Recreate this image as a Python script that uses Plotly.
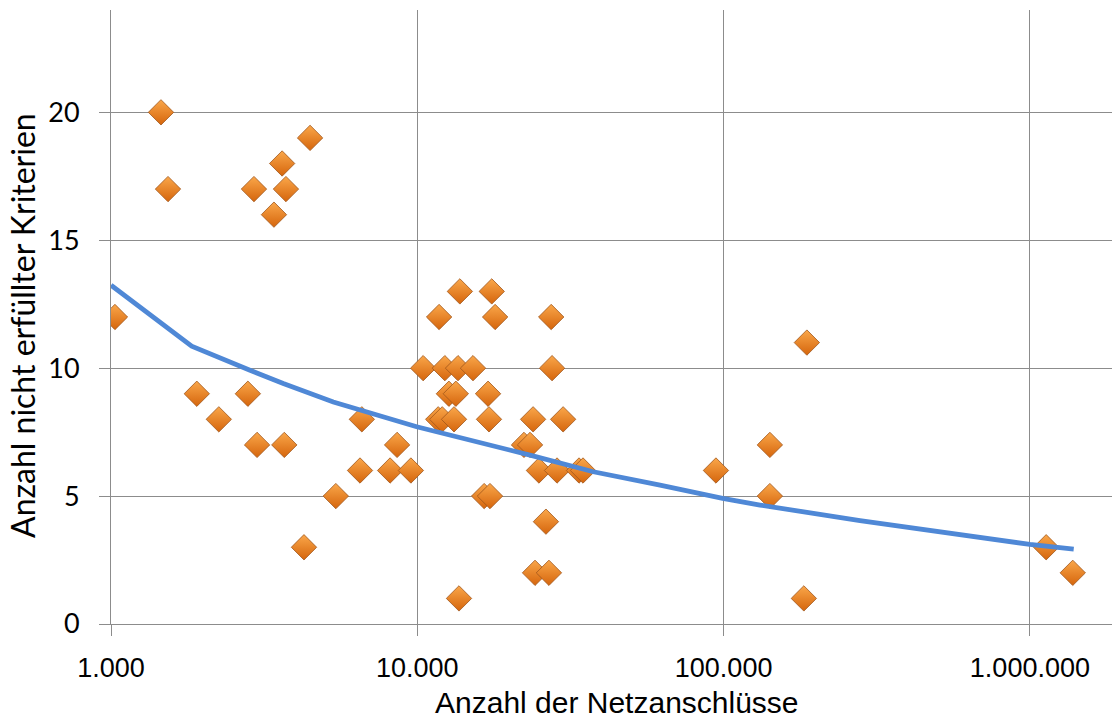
import plotly.graph_objects as go

# Netzanschlüsse je Netzbetreiber und Anzahl nicht erfüllter Kriterien
anschluesse = [
    1030, 1456, 1535, 1906, 2249, 2798, 2929, 2998, 3404, 3620,
    3679, 3725, 4266, 4466, 5420, 6500, 6590, 8150, 8590, 9530,
    10450, 11700, 11780, 12060, 12300, 12680, 13180, 13360, 13580, 13680,
    13770, 15200, 16530, 17020, 17140, 17270, 17500, 17950, 22300, 23340,
    23880, 24230, 24950, 26300, 26900, 27360, 27540, 28590, 29930, 33730,
    34750, 94400, 141600, 141600, 182800, 187000, 1130000, 1380000,
]
kriterien = [
    12, 20, 17, 9, 8, 9, 17, 7, 16, 18,
    7, 17, 3, 19, 5, 6, 8, 6, 7, 6,
    10, 8, 12, 8, 10, 9, 8, 9, 10, 1,
    13, 10, 5, 9, 8, 5, 13, 12, 7, 7,
    8, 2, 6, 4, 2, 12, 10, 6, 8, 6,
    6, 6, 7, 5, 1, 11, 3, 2,
]

# Trendlinie (Stützpunkte)
trend_x = [1000, 1834, 2843, 3651, 5319, 6836, 9954, 23330, 29240, 37540,
           62000, 99300, 131500, 278800, 1000000, 1390000]
trend_y = [13.24, 10.86, 9.92, 9.40, 8.68, 8.29, 7.71, 6.60, 6.27, 5.95,
           5.43, 4.91, 4.65, 4.04, 3.11, 2.93]

x_tickvals = [1000, 10000, 100000, 1000000]
x_ticktext = ["1.000", "10.000", "100.000", "1.000.000"]
y_tickvals = [0, 5, 10, 15, 20]

grid = "#8c8c8c"

fig = go.Figure()
fig.add_trace(go.Scatter(
    x=anschluesse, y=kriterien, mode="markers",
    marker=dict(symbol="diamond", size=19.5, color="#FAA74A",
                gradient=dict(type="vertical", color="#D5650C"),
                line=dict(color="#A0561A", width=0.8)),
    showlegend=False, hoverinfo="x+y",
))
fig.add_trace(go.Scatter(
    x=trend_x, y=trend_y, mode="lines",
    line=dict(color="#4F88D6", width=4.8),
    showlegend=False, hoverinfo="skip",
))

fig.update_layout(
    width=1112, height=719,
    margin=dict(l=111, r=0, t=10, b=95),
    paper_bgcolor="white", plot_bgcolor="white",
    xaxis=dict(
        type="log", range=[3, 6.268],
        tickvals=x_tickvals, ticktext=x_ticktext,
        tickfont=dict(family="Liberation Sans", size=27, color="black"),
        showgrid=True, gridcolor=grid, gridwidth=1,
        ticks="outside", ticklen=11, tickcolor=grid, tickwidth=1,
        showline=True, linecolor=grid, linewidth=1, zeroline=False,
        ticklabelstandoff=9,
    ),
    yaxis=dict(
        range=[0, 24], tickvals=y_tickvals,
        tickfont=dict(family="Lato", size=27, color="black"),
        showgrid=True, gridcolor=grid, gridwidth=1,
        ticks="outside", ticklen=11, tickcolor=grid, tickwidth=1,
        showline=True, linecolor=grid, linewidth=1, zeroline=False,
        ticklabelstandoff=14,
    ),
    annotations=[
        dict(text="Anzahl der Netzanschlüsse", xref="paper", yref="paper",
             x=0.505, y=-0.128, xanchor="center", yanchor="middle",
             showarrow=False,
             font=dict(family="Liberation Sans", size=30, color="black")),
        dict(text="Anzahl nicht erfüllter Kriterien", xref="paper", yref="paper",
             x=-0.088, y=0.487, xanchor="center", yanchor="middle",
             textangle=-90, showarrow=False,
             font=dict(family="Lato", size=32, color="black")),
    ],
)

fig.write_html("out.html")
